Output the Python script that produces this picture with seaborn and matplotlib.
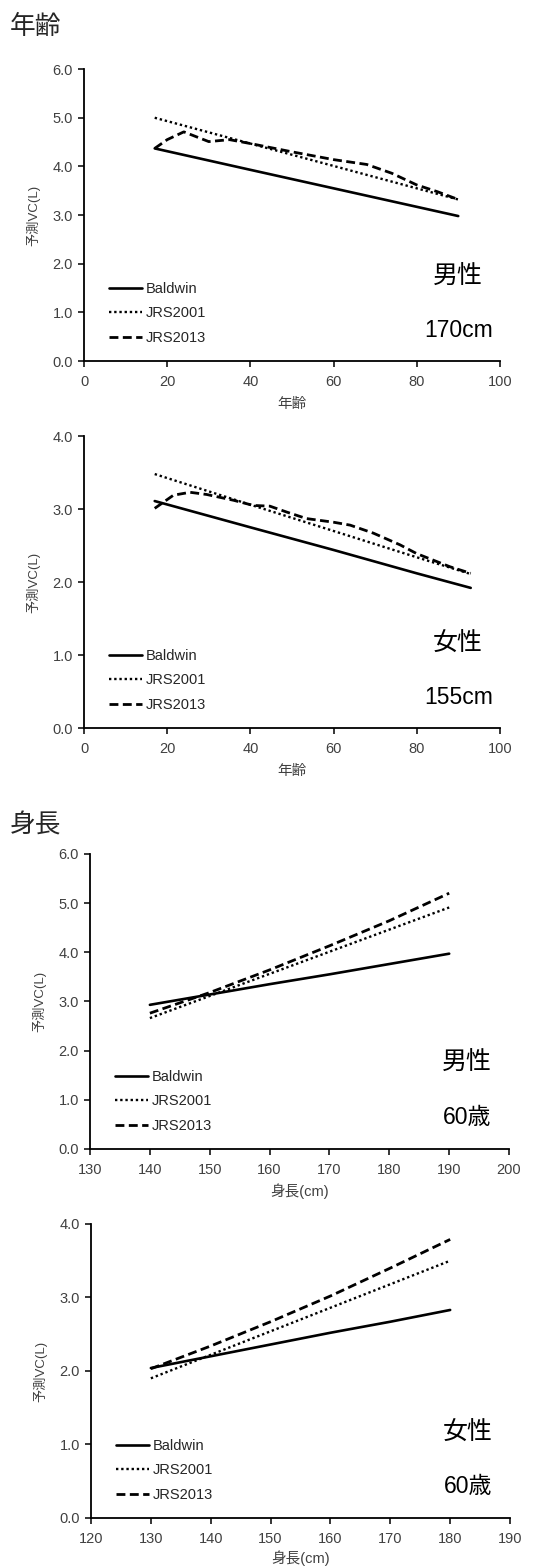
import numpy as np
import pandas as pd
import matplotlib.pyplot as plt
import seaborn as sns
from matplotlib.ticker import FormatStrFormatter, MultipleLocator

plt.switch_backend('Agg')

sns.set_style('white')
plt.rcParams['font.family'] = ['Liberation Sans', 'Noto Sans CJK JP', 'DejaVu Sans']

series_names = ['Baldwin', 'JRS2001', 'JRS2013']

# panel 1: male, 170cm, by age
m_age_lin = [17, 40, 60, 80, 90]
m_age_baldwin = [4.37, 3.93, 3.55, 3.17, 2.98]
m_age_jrs2001 = [5.00, 4.47, 4.01, 3.55, 3.32]
m_age = [17, 20, 24, 30, 35, 40, 50, 60, 68, 74, 80, 85, 90]
m_age_jrs2013 = [4.37, 4.55, 4.71, 4.51, 4.55, 4.47, 4.30, 4.14, 4.04, 3.86, 3.62, 3.48, 3.32]

# panel 2: female, 155cm, by age
f_age_lin = [17, 40, 60, 80, 93]
f_age_baldwin = [3.11, 2.75, 2.44, 2.12, 1.92]
f_age_jrs2001 = [3.48, 3.06, 2.70, 2.34, 2.11]
f_age = [17, 21.5, 25.5, 29.5, 36, 40.7, 44.7, 48.7, 53.5, 60, 64, 69.6, 76, 80, 84, 88, 93]
f_age_jrs2013 = [3.01, 3.19, 3.23, 3.20, 3.12, 3.05, 3.04, 2.96, 2.87, 2.82, 2.78, 2.67, 2.51, 2.39, 2.30, 2.21, 2.12]

# panel 3: male, 60 years, by height
m_ht = [140, 150, 160, 170, 180, 190]
m_ht_baldwin = [2.93, 3.14, 3.35, 3.55, 3.76, 3.97]
m_ht_jrs2001 = [2.66, 3.11, 3.56, 4.01, 4.46, 4.91]
m_ht_jrs2013 = [2.76, 3.18, 3.64, 4.13, 4.64, 5.20]

# panel 4: female, 60 years, by height
f_ht = [130, 140, 150, 160, 170, 180]
f_ht_baldwin = [2.04, 2.20, 2.36, 2.52, 2.67, 2.83]
f_ht_jrs2001 = [1.90, 2.22, 2.54, 2.86, 3.18, 3.50]
f_ht_jrs2013 = [2.03, 2.34, 2.67, 3.02, 3.40, 3.79]

panels = [
    dict(xs=[m_age_lin, m_age_lin, m_age], ys=[m_age_baldwin, m_age_jrs2001, m_age_jrs2013],
         xlabel='年齢', xlim=(0, 100), xstep=20, ylim=(0, 6), sex='男性', cond='170cm',
         rect=[0.1556, 0.7696, 0.770, 0.1863], lpad=6),
    dict(xs=[f_age_lin, f_age_lin, f_age], ys=[f_age_baldwin, f_age_jrs2001, f_age_jrs2013],
         xlabel='年齢', xlim=(0, 100), xstep=20, ylim=(0, 4), sex='女性', cond='155cm',
         rect=[0.1556, 0.5354, 0.770, 0.1863], lpad=6),
    dict(xs=[m_ht, m_ht, m_ht], ys=[m_ht_baldwin, m_ht_jrs2001, m_ht_jrs2013],
         xlabel='身長(cm)', xlim=(130, 200), xstep=10, ylim=(0, 6), sex='男性', cond='60歳',
         rect=[0.1667, 0.2668, 0.776, 0.1883], lpad=5),
    dict(xs=[f_ht, f_ht, f_ht], ys=[f_ht_baldwin, f_ht_jrs2001, f_ht_jrs2013],
         xlabel='身長(cm)', xlim=(120, 190), xstep=10, ylim=(0, 4), sex='女性', cond='60歳',
         rect=[0.1685, 0.0313, 0.776, 0.1876], lpad=3),
]

styles = {
    'Baldwin': dict(linestyle='-', linewidth=1.9),
    'JRS2001': dict(linestyle=(0, (1, 1.2)), linewidth=1.7),
    'JRS2013': dict(linestyle=(0, (3.2, 1.6)), linewidth=2.0),
}

fig = plt.figure(figsize=(5.4, 15.67), dpi=100)

tick_color = '#404040'

for p in panels:
    ax = fig.add_axes(p['rect'])
    for name, x, y in zip(series_names, p['xs'], p['ys']):
        df = pd.DataFrame({'x': x, 'y': y})
        sns.lineplot(data=df, x='x', y='y', ax=ax, color='black', label=name,
                     **styles[name])
    ax.set_xlim(*p['xlim'])
    ax.set_ylim(*p['ylim'])
    ax.xaxis.set_major_locator(MultipleLocator(p['xstep']))
    ax.yaxis.set_major_locator(MultipleLocator(1.0))
    ax.yaxis.set_major_formatter(FormatStrFormatter('%.1f'))
    for s in ['top', 'right']:
        ax.spines[s].set_visible(False)
    for s in ['left', 'bottom']:
        ax.spines[s].set_color('black')
        ax.spines[s].set_linewidth(1.3)
    ax.tick_params(axis='both', direction='out', length=4, width=1.1, color='black',
                   labelsize=10.5, labelcolor=tick_color, bottom=True, left=True)
    ax.tick_params(axis='x', pad=6)
    ax.tick_params(axis='y', pad=4)
    ax.set_xlabel(p['xlabel'], fontsize=10.5, color=tick_color, labelpad=p['lpad'])
    ax.set_ylabel('予測VC(L)', fontsize=9.5, color=tick_color, labelpad=9)
    leg = ax.legend(loc='lower left', bbox_to_anchor=(0.045, 0.035), frameon=False,
                    fontsize=10.5, handlelength=2.3, handletextpad=0.25,
                    labelspacing=0.72, borderaxespad=0)
    for t in leg.get_texts():
        t.set_color('#262626')
    ax.text(0.9, 0.29, p['sex'], transform=ax.transAxes, ha='center', va='center',
            fontsize=18, color='black')
    ax.text(0.9, 0.106, p['cond'], transform=ax.transAxes, ha='center', va='center',
            fontsize=16.5, color='black')

fig.text(10 / 540, 1 - 27 / 1567, '年齢', ha='left', va='center', fontsize=18.5)
fig.text(10 / 540, 1 - 825 / 1567, '身長', ha='left', va='center', fontsize=18.5)

plt.savefig('out.png', dpi=100)
